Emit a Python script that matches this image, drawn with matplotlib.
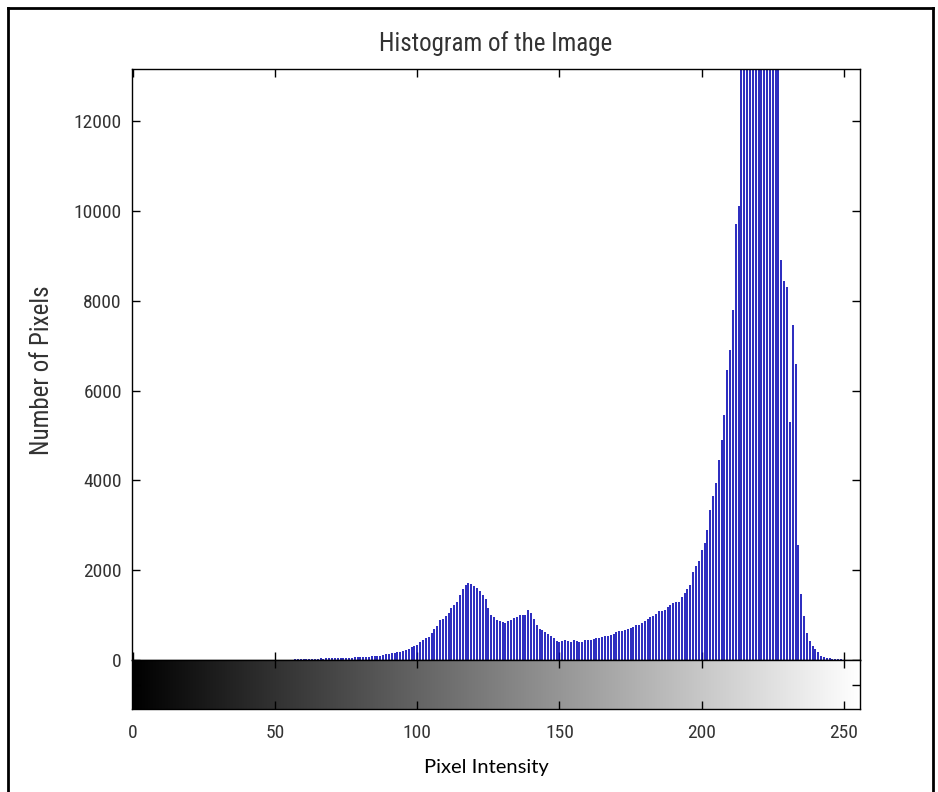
import matplotlib
matplotlib.use('Agg')
import matplotlib.pyplot as plt
import numpy as np
from matplotlib import font_manager
from matplotlib.font_manager import FontProperties
from matplotlib.lines import Line2D

# pixel counts, bins 56..255 (bins 0..55 are empty)
first_bin = 56
counts = [
    10, 25, 20, 25, 20, 25, 30, 25, 30, 30,                     # 56-65
    35, 30, 35, 40, 40, 45, 40, 45, 50, 55,                     # 66-75
    50, 55, 60, 60, 65, 70, 70, 75, 80, 85,                     # 76-85
    95, 100, 115, 125, 140, 155, 165, 175, 170, 190,            # 86-95
    215, 250, 285, 310, 345, 390, 440, 490, 510, 600,           # 96-105
    680, 750, 880, 920, 980, 1045, 1150, 1220, 1290, 1450,      # 106-115
    1580, 1680, 1710, 1700, 1650, 1600, 1530, 1440, 1350, 1150,  # 116-125
    1000, 950, 880, 860, 850, 830, 860, 900, 930, 965,          # 126-135
    1000, 1005, 1010, 1110, 1040, 910, 790, 700, 660, 615,      # 136-145
    570, 530, 490, 430, 410, 430, 440, 420, 410, 445,           # 146-155
    415, 410, 410, 440, 445, 450, 460, 490, 500, 505,           # 156-165
    530, 545, 560, 590, 620, 635, 655, 665, 690, 710,           # 166-175
    745, 770, 790, 820, 870, 920, 955, 990, 1020, 1080,         # 176-185
    1080, 1120, 1170, 1230, 1280, 1285, 1290, 1400, 1500, 1580,  # 186-195
    1680, 1950, 2100, 2200, 2450, 2600, 2900, 3350, 3650, 3950,  # 196-205
    4450, 4900, 5450, 6450, 6900, 7800, 9700, 10100, 13600, 15200,  # 206-215
    17000, 18800, 20100, 21000, 21300, 20800, 19800, 18500, 17000, 15400,  # 216-225
    13900, 13400, 8900, 8450, 8300, 5300, 7450, 6600, 2550, 1470,  # 226-235
    990, 600, 430, 320, 245, 170, 100, 65, 45, 35,              # 236-245
    25, 20, 15, 12, 10, 8, 6, 5, 5, 8,                          # 246-255
]
intensity = np.arange(first_bin, first_bin + len(counts))

x_ticks = [0, 50, 100, 150, 200, 250]
y_ticks = [0, 2000, 4000, 6000, 8000, 10000, 12000]
y_top = 13160


# MATLAB draws its axis text in a narrow Helvetica; use a condensed face if one is installed
def narrow_font():
    narrow = ('condensed', 'semi-condensed', 'extra-condensed', 'ultra-condensed')
    found = []
    for f in font_manager.fontManager.ttflist:
        is_narrow = str(f.stretch) in narrow or 'Narrow' in f.name or 'Condensed' in f.name
        if is_narrow and f.style == 'normal' and f.weight in (400, 'normal', 'regular'):
            found.append(f)
    order = ['Liberation Sans Narrow', 'Roboto Condensed', 'Open Sans Condensed',
             'Noto Sans', 'DejaVu Sans']
    found.sort(key=lambda f: order.index(f.name) if f.name in order else len(order))
    if found:
        return found[0].fname, True
    return font_manager.findfont('Liberation Sans'), False


fname, is_narrow = narrow_font()
tick_size = 14 if is_narrow else 13
label_size = 18 if is_narrow else 16


def axfont(sz):
    return FontProperties(fname=fname, size=sz)


txt_color = '#333333'
W, H = 938, 792
fig = plt.figure(figsize=(W / 100, H / 100), dpi=100)
fig.patch.set_facecolor('white')

# histogram axes
ax = fig.add_axes([131.5 / W, 1 - 660 / H, (859.5 - 131.5) / W, (660 - 69) / H])
ax.vlines(intensity, 0, counts, color='#0606b4', linewidth=1.2)
ax.set_xlim(-0.5, 255.5)
ax.set_ylim(0, y_top)
ax.set_xticks(x_ticks)
ax.set_xticklabels([])
ax.set_yticks(y_ticks)
ax.set_yticklabels([str(v) for v in y_ticks], fontproperties=axfont(tick_size), color=txt_color)
ax.tick_params(direction='in', length=6, width=1.0, top=True, right=True, pad=7)
for s in ax.spines.values():
    s.set_linewidth(1.0)
ax.set_title('Histogram of the Image', fontproperties=axfont(label_size), color=txt_color, pad=13)
fig.text(42 / W, 1 - 370 / H, 'Number of Pixels', fontproperties=axfont(label_size), color=txt_color,
         rotation=90, ha='center', va='center')

# gray colour bar under the histogram
cb = fig.add_axes([131.5 / W, 1 - 709 / H, (859.5 - 131.5) / W, 49 / H])
cb.imshow(np.linspace(0, 1, 256)[None, :], cmap='gray', aspect='auto',
          extent=(-0.5, 255.5, 0, 1), vmin=0, vmax=1)
cb.set_xlim(-0.5, 255.5)
cb.set_ylim(0, 1)
cb.set_xticks(x_ticks)
cb.set_xticklabels([str(v) for v in x_ticks], fontproperties=axfont(tick_size), color=txt_color)
cb.set_yticks([0.5])
cb.set_yticklabels([])
cb.tick_params(direction='in', length=6, width=1.0, top=True, right=True, pad=11)
for s in cb.spines.values():
    s.set_linewidth(1.0)

fig.text(486 / W, 1 - 768 / H, 'Pixel Intensity', fontsize=14.5, family='Lato',
         ha='center', va='center', color='black')

# outer frame of the screenshot
frame_kw = dict(color='black', linewidth=2.0, transform=fig.transFigure)
fig.add_artist(Line2D([8 / W, 8 / W], [0, 1 - 8 / H], **frame_kw))
fig.add_artist(Line2D([8 / W, 933 / W], [1 - 8 / H, 1 - 8 / H], **frame_kw))
fig.add_artist(Line2D([933 / W, 933 / W], [0, 1 - 8 / H], **frame_kw))

fig.savefig('out.png', dpi=100, facecolor='white')
